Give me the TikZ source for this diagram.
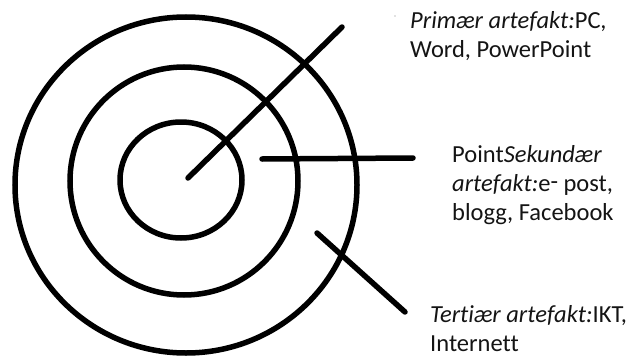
\documentclass[tikz,border=0pt]{standalone}
\usepackage{fontspec}
\setmainfont[Ligatures=NoCommon]{Carlito}
\begin{document}
\begin{tikzpicture}[x=1pt,y=-1pt,
  ring/.style={draw=black,line width=5.5pt},
  spoke/.style={draw=black,line width=5.5pt,line cap=round},
  lbl/.style={anchor=base west,inner sep=0pt,align=left,text=black!92,font=\fontsize{24.5}{29}\selectfont}]
\useasboundingbox (0,0) rectangle (632,356);
\draw[ring] (186,185) ellipse [x radius=171, y radius=168];
\draw[ring] (184,181) ellipse [x radius=114, y radius=114];
\draw[ring] (181,180) ellipse [x radius=61, y radius=58];
\coordinate (p1) at (188,178);
\coordinate (p2) at (342,27);
\coordinate (s1) at (262,159);
\coordinate (s2) at (413,158);
\coordinate (t1) at (317,233);
\coordinate (t2) at (405,312);
\draw[spoke] (p1) -- (p2);
\draw[spoke] (s1) -- (s2);
\draw[spoke] (t1) -- (t2);
\fill[gray] (395,16) circle (0.6);
\node[lbl] (prim) at (410,57) {\textit{Primær artefakt:}PC,\\Word, PowerPoint};
\node[lbl] (sek) at (452,220) {Point\textit{Sekundær}\\\textit{artefakt:}e\raisebox{1.5pt}{-} post,\\blogg, Facebook};
\node[lbl] (ter) at (430,351) {\textit{Tertiær artefakt:}IKT,\\Internett};
\end{tikzpicture}
\end{document}
